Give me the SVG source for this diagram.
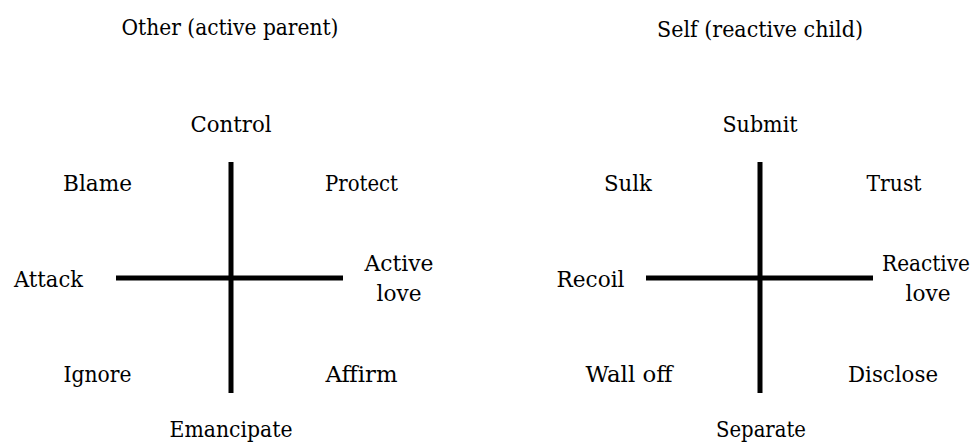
<svg xmlns="http://www.w3.org/2000/svg" width="979" height="443" viewBox="0 0 979 443">
<style>
.t text{font-family:'DejaVu Serif','Liberation Serif',serif;font-size:23px;fill:#000;text-anchor:middle}
.ax{stroke:#000;stroke-width:5;fill:none}
</style>
<rect width="979" height="443" fill="#fff"/>
<g id="connectors">
<line class="ax" x1="231" y1="162" x2="231" y2="393"/>
<line class="ax" x1="116" y1="278" x2="343" y2="278"/>
<line class="ax" x1="760" y1="162" x2="760" y2="393"/>
<line class="ax" x1="646" y1="278" x2="873" y2="278"/>
</g>
<g class="t">
<g id="title-other"><text x="230" y="35" textLength="217" lengthAdjust="spacingAndGlyphs">Other (active parent)</text></g>
<g id="title-self"><text x="760" y="37" textLength="206" lengthAdjust="spacingAndGlyphs">Self (reactive child)</text></g>
<g id="control"><text x="231" y="132" textLength="81" lengthAdjust="spacingAndGlyphs">Control</text></g>
<g id="blame"><text x="97.5" y="191" textLength="69" lengthAdjust="spacingAndGlyphs">Blame</text></g>
<g id="protect"><text x="361.5" y="191" textLength="73" lengthAdjust="spacingAndGlyphs">Protect</text></g>
<g id="attack"><text x="48.5" y="287" textLength="69" lengthAdjust="spacingAndGlyphs">Attack</text></g>
<g id="active-love"><text x="399" y="271" textLength="69" lengthAdjust="spacingAndGlyphs">Active</text><text x="399" y="301" textLength="45" lengthAdjust="spacingAndGlyphs">love</text></g>
<g id="ignore"><text x="97.5" y="382" textLength="68" lengthAdjust="spacingAndGlyphs">Ignore</text></g>
<g id="affirm"><text x="361.5" y="382" textLength="72" lengthAdjust="spacingAndGlyphs">Affirm</text></g>
<g id="emancipate"><text x="231" y="437" textLength="123" lengthAdjust="spacingAndGlyphs">Emancipate</text></g>
<g id="submit"><text x="760" y="132" textLength="75" lengthAdjust="spacingAndGlyphs">Submit</text></g>
<g id="sulk"><text x="628" y="191" textLength="48" lengthAdjust="spacingAndGlyphs">Sulk</text></g>
<g id="trust"><text x="894" y="191" textLength="55" lengthAdjust="spacingAndGlyphs">Trust</text></g>
<g id="recoil"><text x="590.5" y="287" textLength="68" lengthAdjust="spacingAndGlyphs">Recoil</text></g>
<g id="reactive-love"><text x="926" y="271" textLength="88" lengthAdjust="spacingAndGlyphs">Reactive</text><text x="928" y="301" textLength="45" lengthAdjust="spacingAndGlyphs">love</text></g>
<g id="wall-off"><text x="629" y="382" textLength="87" lengthAdjust="spacingAndGlyphs">Wall off</text></g>
<g id="disclose"><text x="893" y="382" textLength="90" lengthAdjust="spacingAndGlyphs">Disclose</text></g>
<g id="separate"><text x="761" y="437" textLength="90" lengthAdjust="spacingAndGlyphs">Separate</text></g>
</g>
</svg>
